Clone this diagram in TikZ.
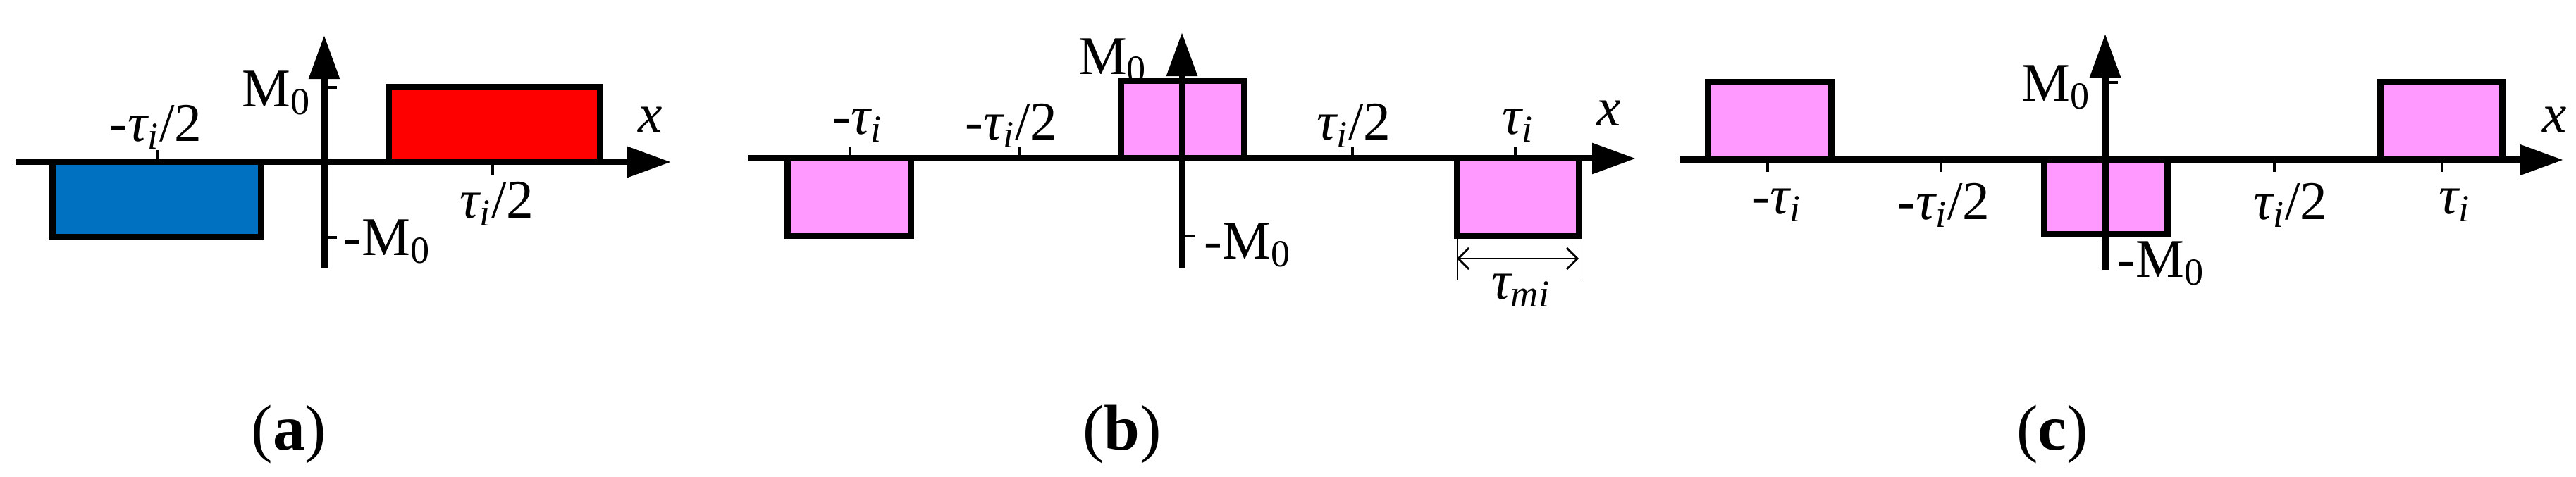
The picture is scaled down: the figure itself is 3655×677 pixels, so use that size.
\documentclass[tikz,border=0pt]{standalone}
\usepackage{fontspec}
\setmainfont{Liberation Serif}
\usetikzlibrary{arrows.meta}
\newcommand{\ti}{\textit{τ\textsubscript{i}}}
\newcommand{\Mz}{M\textsubscript{0}}
\definecolor{pinkf}{HTML}{FF99FF}
\definecolor{bluef}{HTML}{0070C0}
\begin{document}
\begin{tikzpicture}[x=0.01cm,y=-0.01cm,
  ax/.style={line width=0.09cm,-{Triangle[length=0.62cm,width=0.42cm]}},
  box/.style={line width=0.09cm,draw=black,fill=pinkf},
  tick/.style={line width=0.045cm},
  lab/.style={font=\fontsize{22}{24}\selectfont,inner sep=0pt},
  captxt/.style={font=\fontsize{26}{28}\selectfont,inner sep=0pt}]
\useasboundingbox (0,0) rectangle (3655,677);
% ---------- (a)
\coordinate (a0) at (22,230); \coordinate (a1) at (952,230);
\coordinate (av0) at (460,380); \coordinate (av1) at (460,50);
\draw[line width=0.09cm,draw=black,fill=bluef] (74,230) rectangle (370,337);
\draw[line width=0.09cm,draw=black,fill=red] (551,124) rectangle (851,230);
\draw[ax] (a0) -- (a1);
\draw[ax] (av0) -- (av1);
\draw[tick] (460,124) -- (478,124);
\draw[tick] (460,337) -- (478,337);
\draw[tick] (223,230) -- (223,213);
\draw[tick] (699,230) -- (699,248);
\node[lab] (la1) at (221,180) {-\ti/2};
\node[lab] (la2) at (705,289) {\ti/2};
\node[lab,anchor=east] (la3) at (442,132) {\Mz};
\node[lab,anchor=west] (la4) at (487,343) {-\Mz};
\node[lab] (la5) at (923,170) {\textit{x}};
\node[captxt] (ca) at (410,617) {(\textbf{a})};
% ---------- (b)
\draw[box] (1117,225) rectangle (1292,335);
\draw[box] (1590,115) rectangle (1765,225);
\draw[box] (2067,225) rectangle (2240,335);
\coordinate (b0) at (1062,225); \coordinate (b1) at (2321,225);
\coordinate (bv0) at (1677,380); \coordinate (bv1) at (1677,46);
\draw[ax] (b0) -- (b1);
\draw[ax] (bv0) -- (bv1);
\draw[tick] (1677,335) -- (1695,335);
\foreach \xx in {1206,1446,1919,2150} \draw[tick] (\xx,225) -- (\xx,209);
\node[lab] at (1217,178) {-\ti};
\node[lab] at (1435,178) {-\ti/2};
\node[lab] at (1921,178) {\ti/2};
\node[lab] at (2154,178) {\ti};
\node[lab] at (1579,86) {\Mz};
\node[lab,anchor=west] at (1708,348) {-\Mz};
\node[lab] at (2283,161) {\textit{x}};
\coordinate (d0) at (2067,367); \coordinate (d1) at (2240,367);
\draw[line width=0.3pt] (2067,335) -- (2067,398) (2240,335) -- (2240,398);
\draw[line width=0.8pt,{Straight Barb[length=0.15cm]}-{Straight Barb[length=0.15cm]}] (d0) -- (d1);
\node[lab] at (2158,412) {\textit{τ\textsubscript{mi}}};
\node[captxt] (cb) at (1592,617) {(\textbf{b})};
% ---------- (c)
\draw[box] (2423,117) rectangle (2598,227);
\draw[box] (2900,227) rectangle (3075,333);
\draw[box] (3377,117) rectangle (3550,227);
\coordinate (c0) at (2383,227); \coordinate (c1) at (3637,227);
\coordinate (cv0) at (2987,383); \coordinate (cv1) at (2987,48);
\draw[ax] (c0) -- (c1);
\draw[ax] (cv0) -- (cv1);
\draw[tick] (2987,117) -- (3005,117);
\foreach \xx in {2508,2754,3227,3465} \draw[tick] (\xx,227) -- (\xx,244);
\node[lab] at (2521,291) {-\ti};
\node[lab] at (2758,291) {-\ti/2};
\node[lab] at (3250,291) {\ti/2};
\node[lab] at (3483,291) {\ti};
\node[lab] at (2917,124) {\Mz};
\node[lab,anchor=west] at (3004,374) {-\Mz};
\node[lab] at (3625,170) {\textit{x}};
\node[captxt] (cc) at (2912,617) {(\textbf{c})};
\end{tikzpicture}
\end{document}
